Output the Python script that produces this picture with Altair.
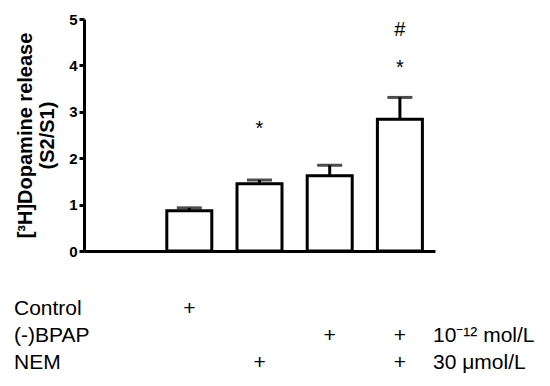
import altair as alt
import pandas as pd

# ---- data ----
slots = ["Blank", "Control", "NEM", "BPAP", "BPAP+NEM"]
bar_groups = ["Control", "NEM", "BPAP", "BPAP+NEM"]
means = [0.87, 1.45, 1.62, 2.84]
sems = [0.06, 0.08, 0.23, 0.47]

mark_groups = ["NEM", "BPAP+NEM", "BPAP+NEM"]
mark_texts = ["*", "*", "#"]
mark_y = [2.64, 3.95, 4.77]

row_labels = ["Control", "(-)BPAP", "NEM"]
row_units = ["", "10\u207b\u00b9\u00b2 mol/L", "30 \u03bcmol/L"]
plus_groups = ["Control", "BPAP", "BPAP+NEM", "NEM", "BPAP+NEM"]
plus_rows = [0, 1, 1, 2, 2]

y_ticks = [0, 1, 2, 3, 4, 5]

bars = pd.DataFrame({"group": bar_groups, "mean": means, "sem": sems})
bars["top"] = bars["mean"] + bars["sem"]
marks = pd.DataFrame({"group": mark_groups, "text": mark_texts, "y": mark_y})
rows = pd.DataFrame({"label": row_labels, "unit": row_units, "row": [0, 1, 2]})
plus = pd.DataFrame({"group": plus_groups, "row": plus_rows})

FONT = "Liberation Sans"

x_enc = alt.X("group:N", scale=alt.Scale(domain=slots, paddingInner=0.31, paddingOuter=0.155),
              axis=alt.Axis(labels=False, ticks=False, title=None, domainWidth=3,
                            domainColor="black"))
y_scale = alt.Scale(domain=[0, 5], nice=False)

bar_layer = alt.Chart(bars).mark_bar(fill="white", stroke="black", strokeWidth=3, size=45).encode(
    x=x_enc,
    y=alt.Y("mean:Q", scale=y_scale,
            axis=alt.Axis(values=y_ticks, title=["[\u00b3H]Dopamine release", "(S2/S1)"],
                          titleFont=FONT, titleFontSize=20, titleFontWeight="bold",
                          titleColor="black", titleLineHeight=22, titlePadding=11,
                          labelFont=FONT, labelFontSize=15, labelFontWeight="bold",
                          labelColor="black", labelPadding=2,
                          domainWidth=3, domainColor="black", tickWidth=3,
                          tickColor="black", tickSize=5, grid=False)),
)

err_rule = alt.Chart(bars).mark_rule(color="black", strokeWidth=3).encode(
    x=alt.X("group:N"), y=alt.Y("mean:Q"), y2="top:Q")
err_cap = alt.Chart(bars).mark_tick(color="black", thickness=3, size=25).encode(
    x=alt.X("group:N"), y=alt.Y("top:Q"))

sig = alt.Chart(marks).mark_text(font=FONT, fontSize=20, color="black", baseline="middle").encode(
    x=alt.X("group:N"), y=alt.Y("y:Q"), text="text:N")

row_scale = alt.Scale(domain=[0, 2], range=[290, 344])
row_text = alt.Chart(rows).mark_text(font=FONT, fontSize=21, color="black", align="left",
                                     baseline="middle").encode(
    x=alt.value(-70), y=alt.Y("row:Q", scale=row_scale, axis=None), text="label:N")
unit_text = alt.Chart(rows).mark_text(font=FONT, fontSize=21, color="black", align="left",
                                      baseline="middle").encode(
    x=alt.value(349), y=alt.Y("row:Q", scale=row_scale, axis=None), text="unit:N")
plus_text = alt.Chart(plus).mark_text(font=FONT, fontSize=21, color="black",
                                      baseline="middle").encode(
    x=alt.X("group:N"), y=alt.Y("row:Q", scale=row_scale, axis=None), text=alt.value("+"))

main = alt.layer(bar_layer, err_rule, err_cap, sig)
table = alt.layer(row_text, unit_text, plus_text)

chart = alt.layer(main, table).resolve_scale(y="independent").properties(
    width=351, height=232,
    autosize=alt.AutoSizeParams(type="none"),
    padding={"left": 76, "top": 11, "right": 107, "bottom": 125},
).configure_view(stroke=None)

chart.save("out.html", embed_options={"renderer": "svg", "actions": False})
